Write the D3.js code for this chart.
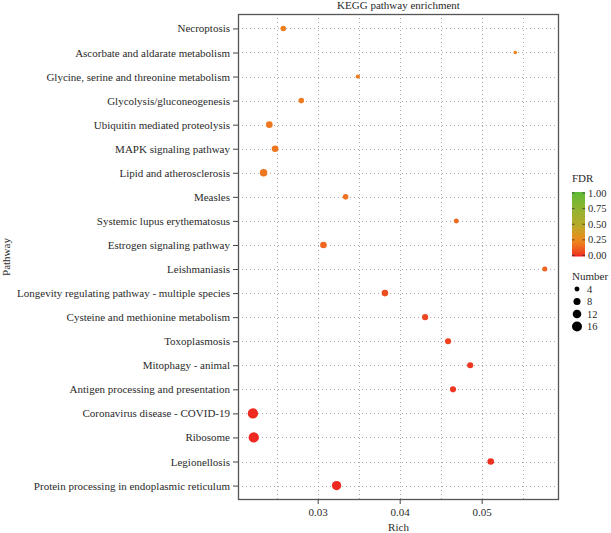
<!DOCTYPE html>
<html lang="en">
<head>
<meta charset="utf-8">
<title>KEGG pathway enrichment</title>
<style>
  body { margin: 0; background: #fff; }
  svg text { font-family: "Liberation Serif", "DejaVu Serif", serif; fill: #2a2a2a; }
</style>
</head>
<body>
<svg id="chart" width="611" height="533"></svg>
<script src="https://d3js.org/d3.v7.min.js"></script>
<script>
// data
var pathways = [
  "Necroptosis",
  "Ascorbate and aldarate metabolism",
  "Glycine, serine and threonine metabolism",
  "Glycolysis/gluconeogenesis",
  "Ubiquitin mediated proteolysis",
  "MAPK signaling pathway",
  "Lipid and atherosclerosis",
  "Measles",
  "Systemic lupus erythematosus",
  "Estrogen signaling pathway",
  "Leishmaniasis",
  "Longevity regulating pathway - multiple species",
  "Cysteine and methionine metabolism",
  "Toxoplasmosis",
  "Mitophagy - animal",
  "Antigen processing and presentation",
  "Coronavirus disease - COVID-19",
  "Ribosome",
  "Legionellosis",
  "Protein processing in endoplasmic reticulum"
];
var rich   = [0.0258, 0.0541, 0.0349, 0.0280, 0.0241, 0.0248, 0.0234, 0.0334, 0.0469, 0.0307,
              0.0577, 0.0382, 0.0431, 0.0459, 0.0486, 0.0465, 0.0221, 0.0222, 0.0511, 0.0323];
var number = [5, 2, 3, 5, 7, 7, 9, 5, 4, 7, 4, 7, 6, 6, 6, 6, 17, 17, 7, 14];
var fdr    = [0.21, 0.21, 0.2, 0.2, 0.19, 0.19, 0.19, 0.17, 0.15, 0.14,
              0.13, 0.08, 0.06, 0.05, 0.03, 0.03, 0.01, 0.01, 0.02, 0.01];
var xTicks = [0.03, 0.04, 0.05];
var xMinor = [0.025, 0.035, 0.045, 0.055];
var fdrTicks = [0, 0.25, 0.5, 0.75, 1];
var numberTicks = [4, 8, 12, 16];

var svg = d3.select("#chart");
var pL = 238, pR = 559, pT = 14, pB = 500;

var x = d3.scaleLinear().domain([0.02028, 0.05943]).range([pL, pR]);
var y = d3.scalePoint().domain(pathways).range([pT, pB]).padding(0.6);
var r = d3.scaleSqrt().domain([0, 18]).range([0, 5.3]);
var color = d3.scaleLinear().domain([0, 0.25, 0.5, 1])
  .range(["#ee2020", "#ec8a1e", "#b4aa2a", "#5cbb38"]).interpolate(d3.interpolateLab);

// grid
var grid = svg.append("g").attr("stroke", "#aaa").attr("stroke-width", 1).attr("stroke-dasharray", "1,3");
grid.selectAll(".gx").data(xTicks.concat(xMinor)).enter().append("line")
  .attr("x1", function(d) { return Math.round(x(d)) + 0.5; })
  .attr("x2", function(d) { return Math.round(x(d)) + 0.5; })
  .attr("y1", pT).attr("y2", pB);
grid.selectAll(".gy").data(pathways).enter().append("line")
  .attr("x1", pL).attr("x2", pR)
  .attr("y1", function(d) { return Math.round(y(d)) + 0.5; })
  .attr("y2", function(d) { return Math.round(y(d)) + 0.5; });

// points
svg.append("g").selectAll("circle").data(pathways).enter().append("circle")
  .attr("cx", function(d, i) { return x(rich[i]); })
  .attr("cy", function(d) { return y(d); })
  .attr("r", function(d, i) { return r(number[i]); })
  .attr("fill", function(d, i) { return color(fdr[i]); });

// panel border
svg.append("rect").attr("x", pL + 0.5).attr("y", pT + 0.5)
  .attr("width", pR - pL - 1).attr("height", pB - pT - 1)
  .attr("fill", "none").attr("stroke", "#555").attr("stroke-width", 1.3);

// axes
var yAxis = svg.append("g").attr("transform", "translate(" + pL + ",0)")
  .call(d3.axisLeft(y).tickSize(5).tickPadding(3));
var xAxis = svg.append("g").attr("transform", "translate(0," + pB + ")")
  .call(d3.axisBottom(x).tickValues(xTicks).tickFormat(d3.format(".2f")).tickSize(4).tickPadding(4));
[yAxis, xAxis].forEach(function(a) {
  a.select(".domain").remove();
  a.selectAll(".tick line").attr("stroke", "#444");
  a.selectAll(".tick text").attr("font-family", null).attr("font-size", 11).attr("fill", "#2a2a2a");
});

// titles
svg.append("text").attr("x", (pL + pR) / 2).attr("y", 9).attr("text-anchor", "middle")
  .attr("font-size", 11).text("KEGG pathway enrichment");
svg.append("text").attr("x", (pL + pR) / 2).attr("y", 531).attr("text-anchor", "middle")
  .attr("font-size", 11).text("Rich");
svg.append("text").attr("transform", "translate(10," + (pT + pB) / 2 + ") rotate(-90)")
  .attr("text-anchor", "middle").attr("font-size", 11).text("Pathway");

// FDR colour bar
var barX = 572, barW = 13;
var fy = d3.scaleLinear().domain([0, 1]).range([255.5, 193]);
var defs = svg.append("defs");
var grad = defs.append("linearGradient").attr("id", "fdrgrad")
  .attr("x1", 0).attr("y1", 1).attr("x2", 0).attr("y2", 0);
grad.selectAll("stop").data(d3.range(0, 1.01, 0.05)).enter().append("stop")
  .attr("offset", function(d) { return d; })
  .attr("stop-color", function(d) { return color(d); });
svg.append("text").attr("x", barX).attr("y", 182).attr("font-size", 11).text("FDR");
svg.append("rect").attr("x", barX).attr("y", fy(1) - 1).attr("width", barW)
  .attr("height", fy(0) - fy(1) + 2).attr("fill", "url(#fdrgrad)");
var lg = svg.append("g").selectAll("g").data(fdrTicks).enter().append("g");
lg.append("line").attr("x1", barX).attr("x2", barX + 2.5)
  .attr("y1", function(d) { return fy(d); }).attr("y2", function(d) { return fy(d); })
  .attr("stroke", "#333").attr("stroke-width", 0.8);
lg.append("line").attr("x1", barX + barW - 2.5).attr("x2", barX + barW)
  .attr("y1", function(d) { return fy(d); }).attr("y2", function(d) { return fy(d); })
  .attr("stroke", "#333").attr("stroke-width", 0.8);
lg.append("text").attr("x", barX + barW + 3).attr("y", function(d) { return fy(d) + 3.5; })
  .attr("font-size", 10.5).text(function(d) { return d3.format(".2f")(d); });

// Number legend
svg.append("text").attr("x", barX).attr("y", 280).attr("font-size", 11).text("Number");
var ny = d3.scalePoint().domain(numberTicks).range([289, 326.5]);
var ng = svg.append("g").selectAll("g").data(numberTicks).enter().append("g");
ng.append("circle").attr("cx", 577).attr("cy", function(d) { return ny(d); })
  .attr("r", function(d) { return r(d); }).attr("fill", "#000");
ng.append("text").attr("x", 587).attr("y", function(d) { return ny(d) + 3.5; })
  .attr("font-size", 10.5).text(function(d) { return d; });
</script>
</body>
</html>
